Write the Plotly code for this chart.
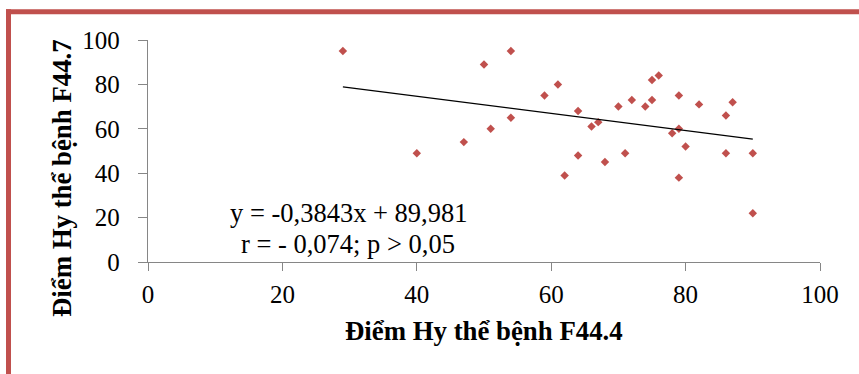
import plotly.graph_objects as go

# Data
x_f444 = [29, 40, 47, 50, 51, 54, 54, 59, 61, 62, 64, 64, 66, 67, 68, 70, 71, 72,
          74, 75, 75, 76, 78, 79, 79, 79, 80, 82, 86, 87, 86, 90, 90]
y_f447 = [95, 49, 54, 89, 60, 95, 65, 75, 80, 39, 68, 48, 61, 63, 45, 70, 49, 73,
          70, 82, 73, 84, 58, 75, 60, 38, 52, 71, 66, 72, 49, 49, 22]

slope = -0.3843
intercept = 89.981
trend_x = [min(x_f444), max(x_f444)]
trend_y = [slope * v + intercept for v in trend_x]

x_ticks = [0, 20, 40, 60, 80, 100]
y_ticks = [0, 20, 40, 60, 80, 100]

eq_text = "y = -0,3843x + 89,981"
r_text = "r = - 0,074; p > 0,05"
x_title = "Điểm Hy thể bệnh F44.4"
y_title = "Điểm Hy thể bệnh F44.7"

RED = "#C0504D"
AXIS = "#868686"
FONT = "Liberation Serif, Times New Roman, serif"

fig = go.Figure()
fig.add_trace(go.Scatter(x=x_f444, y=y_f447, mode="markers",
                         marker=dict(symbol="diamond", size=6.5, color=RED,
                                     line=dict(width=0)),
                         showlegend=False, hoverinfo="skip"))
fig.add_trace(go.Scatter(x=trend_x, y=trend_y, mode="lines",
                         line=dict(color="black", width=1.3),
                         showlegend=False, hoverinfo="skip"))

L, R, T, B = 148, 39, 40, 112
W, H = 859, 374
pw, ph = W - L - R, H - T - B

def px(xp):
    return (xp - L) / pw

def py(yp):
    return (H - B - yp) / ph

fig.update_layout(
    width=W, height=H,
    margin=dict(l=L, r=R, t=T, b=B, pad=0),
    paper_bgcolor="white", plot_bgcolor="white",
    font=dict(family=FONT, color="black", size=25),
    xaxis=dict(range=[0, 100], tickvals=x_ticks, ticks="outside", ticklen=8,
               tickcolor=AXIS, tickwidth=1.3, showline=True, linecolor=AXIS,
               linewidth=1.3, showgrid=False, zeroline=False,
               tickfont=dict(size=25, family=FONT, color="black"),
               ticklabelstandoff=2),
    yaxis=dict(range=[0, 100], tickvals=y_ticks, ticks="outside", ticklen=9,
               tickcolor=AXIS, tickwidth=1.3, showline=True, linecolor=AXIS,
               linewidth=1.3, showgrid=False, zeroline=False,
               tickfont=dict(size=25, family=FONT, color="black"),
               ticklabelstandoff=13),
    annotations=[
        dict(text=eq_text, xref="paper", yref="paper",
             x=px(348), y=py(213), showarrow=False, xanchor="center",
             yanchor="middle", font=dict(size=26.5, family=FONT, color="black")),
        dict(text=r_text, xref="paper", yref="paper",
             x=px(348), y=py(244), showarrow=False, xanchor="center",
             yanchor="middle", font=dict(size=26.5, family=FONT, color="black")),
        dict(text="<b>" + x_title + "</b>", xref="paper", yref="paper",
             x=px(484), y=py(331), showarrow=False, xanchor="center",
             yanchor="middle", font=dict(size=26.8, family=FONT, color="black")),
        dict(text="<b>" + y_title + "</b>", xref="paper", yref="paper",
             x=px(62), y=py(178), showarrow=False, xanchor="center",
             yanchor="middle", textangle=-90,
             font=dict(size=26.8, family=FONT, color="black")),
    ],
    shapes=[
        dict(type="line", xref="paper", yref="paper", x0=px(6), x1=px(870),
             y0=py(11.7), y1=py(11.7), line=dict(color=RED, width=5)),
        dict(type="line", xref="paper", yref="paper", x0=px(8.5), x1=px(8.5),
             y0=py(9.2), y1=py(390), line=dict(color=RED, width=5)),
    ],
)

fig.write_html("out.html", config={"displayModeBar": False},
               post_script="document.body.style.margin='0';document.body.style.padding='0';")
